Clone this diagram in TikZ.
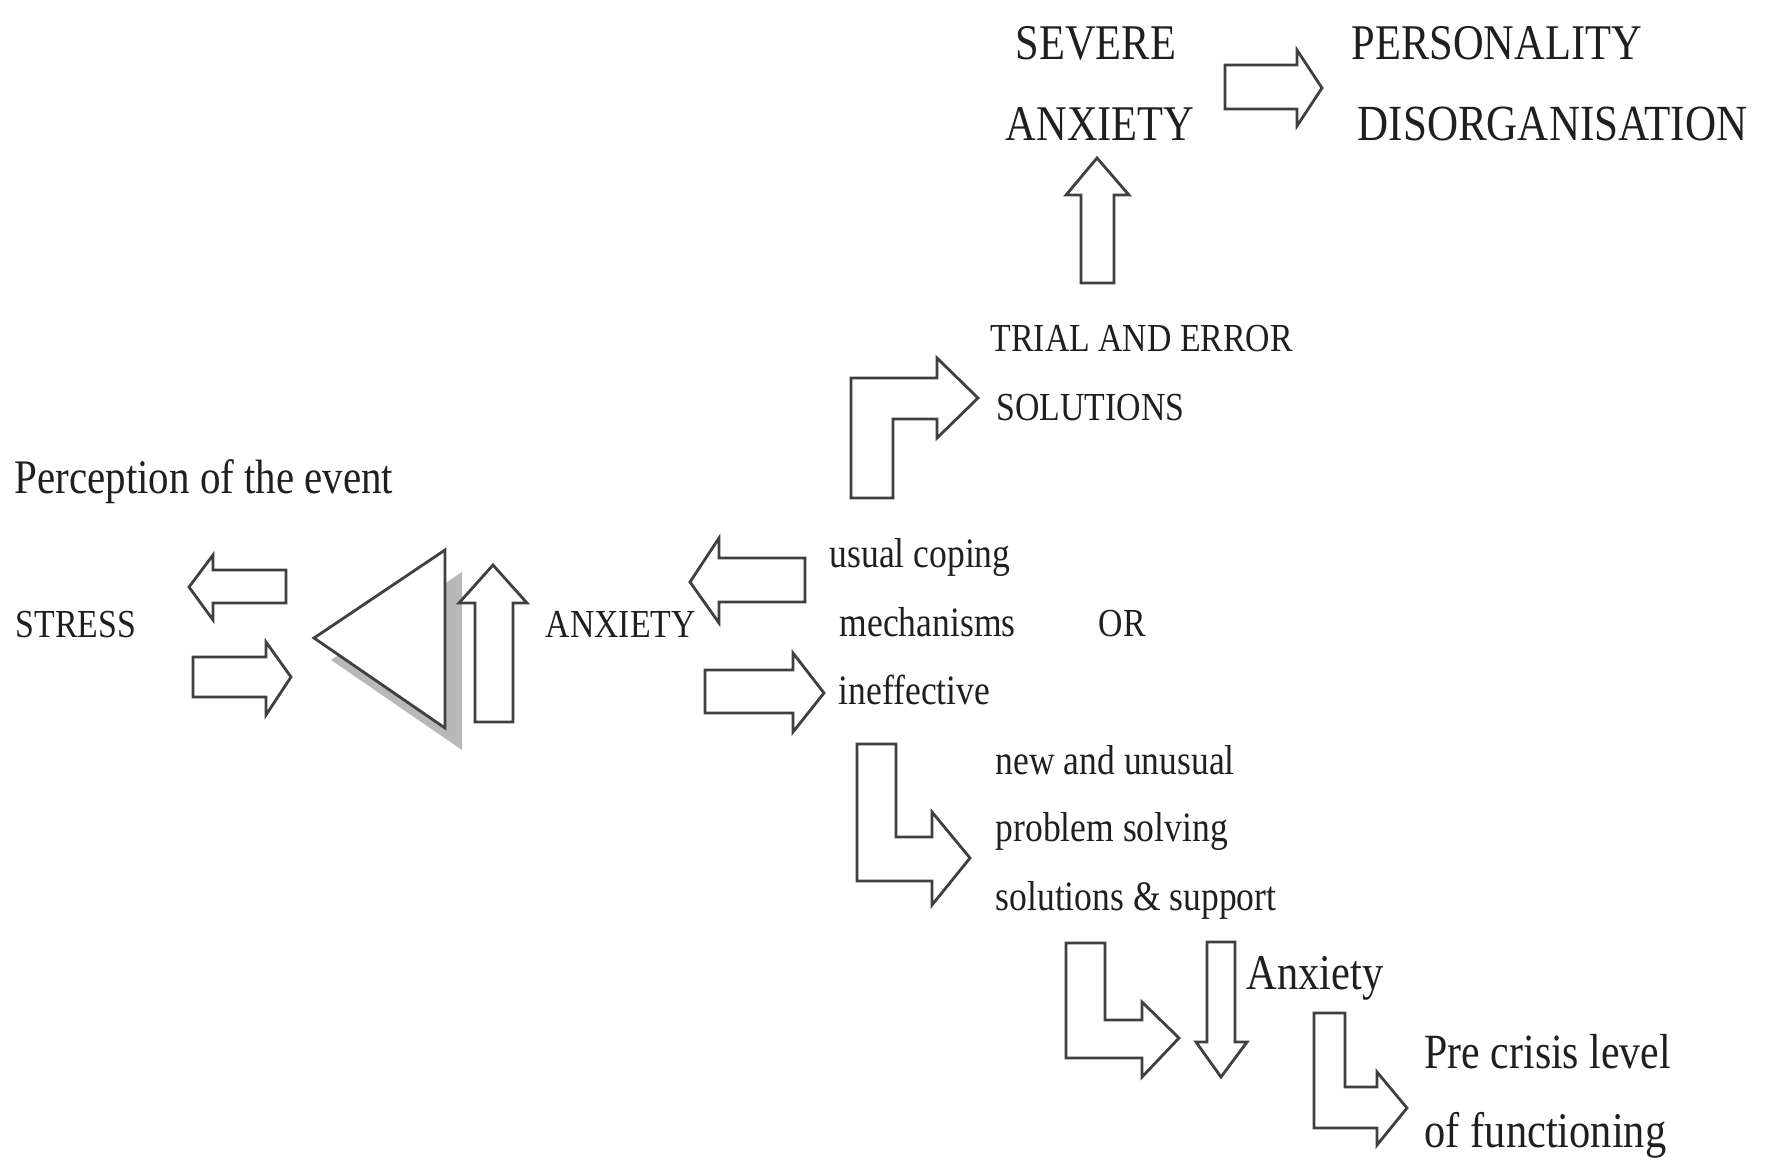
\documentclass[tikz,border=0pt]{standalone}
\usepackage{fontspec}
\setmainfont[FakeStretch=0.85]{Liberation Serif}
\tikzset{
  blockarrow/.style={draw=black!75,line width=0.8pt,fill=white,line join=miter},
  lbl/.style={anchor=base west,inner sep=0pt,text=black!88},
  big/.style={font=\fontsize{14.2}{16}\selectfont},
  mid/.style={font=\fontsize{11.3}{13}\selectfont},
  low/.style={font=\fontsize{11.9}{14}\selectfont}
}
\begin{document}
\begin{tikzpicture}[x=0.01cm,y=-0.01cm]
\useasboundingbox (0,0) rectangle (1769,1160);

% top row
\node[lbl,big] (severe) at (1015,59) {SEVERE};
\node[lbl,big] (anxtop) at (1005,140) {ANXIETY};
\node[lbl,big] (person) at (1351,59) {PERSONALITY};
\node[lbl,big,font=\fontsize{14.4}{16}\selectfont] (disorg) at (1357,140) {DISORGANISATION};
\draw[blockarrow] (1225,65) -- (1297,65) -- (1297,50) -- (1322,88) -- (1297,126) -- (1297,109) -- (1225,109) -- cycle;
\draw[blockarrow] (1081,283) -- (1081,195) -- (1066,195) -- (1097,158) -- (1129,195) -- (1114,195) -- (1114,283) -- cycle;

% trial and error
\node[lbl,mid] (trial) at (990,351) {TRIAL AND ERROR};
\node[lbl,mid] (solut) at (996,420) {SOLUTIONS};
\draw[blockarrow] (851,498) -- (851,378) -- (937,378) -- (937,358) -- (978,398) -- (937,438) -- (937,419) -- (893,419) -- (893,498) -- cycle;

% left part
\node[lbl,big,font=\fontsize{13.7}{16}\selectfont] (percep) at (14,493) {Perception of the event};
\node[lbl,mid] (stress) at (15,637) {STRESS};
\draw[blockarrow] (286,570) -- (213,570) -- (213,555) -- (189,587) -- (213,620) -- (213,603) -- (286,603) -- cycle;
\draw[blockarrow] (193,657) -- (266,657) -- (266,642) -- (291,677) -- (266,715) -- (266,697) -- (193,697) -- cycle;
\fill[black!28,shift={(17,22)}] (314,638) -- (445,550) -- (445,728) -- cycle;
\draw[blockarrow] (314,638) -- (445,550) -- (445,728) -- cycle;
\draw[blockarrow] (475,722) -- (475,603) -- (459,603) -- (493,565) -- (527,603) -- (513,603) -- (513,722) -- cycle;
\node[lbl,mid] (anxmid) at (545,637) {ANXIETY};

% coping
\draw[blockarrow] (805,558) -- (719,558) -- (719,538) -- (690,582) -- (719,623) -- (719,602) -- (805,602) -- cycle;
\draw[blockarrow] (705,670) -- (793,670) -- (793,653) -- (824,693) -- (793,732) -- (793,713) -- (705,713) -- cycle;
\node[lbl,low] (usual) at (829,567) {usual coping};
\node[lbl,low] (mech) at (839,636) {mechanisms};
\node[lbl,mid] (orword) at (1098,636) {OR};
\node[lbl,low] (ineff) at (838,704) {ineffective};

% new solutions
\draw[blockarrow] (857,744) -- (896,744) -- (896,837) -- (932,837) -- (932,812) -- (970,858) -- (932,905) -- (932,881) -- (857,881) -- cycle;
\node[lbl,low] (newun) at (995,774) {new and unusual};
\node[lbl,low] (probs) at (995,841) {problem solving};
\node[lbl,low] (solsup) at (995,910) {solutions \& support};

% bottom
\draw[blockarrow] (1066,943) -- (1105,943) -- (1105,1020) -- (1142,1020) -- (1142,1002) -- (1179,1038) -- (1142,1077) -- (1142,1058) -- (1066,1058) -- cycle;
\draw[blockarrow] (1207,942) -- (1235,942) -- (1235,1042) -- (1247,1042) -- (1221,1077) -- (1196,1042) -- (1207,1042) -- cycle;
\node[lbl,big] (anxlow) at (1246,989) {Anxiety};
\draw[blockarrow] (1314,1013) -- (1345,1013) -- (1345,1087) -- (1377,1087) -- (1377,1072) -- (1407,1108) -- (1377,1145) -- (1377,1128) -- (1314,1128) -- cycle;
\node[lbl,big,font=\fontsize{14}{16}\selectfont] (precr) at (1424,1068) {Pre crisis level};
\node[lbl,big] (funct) at (1424,1147) {of functioning};
\end{tikzpicture}
\end{document}
